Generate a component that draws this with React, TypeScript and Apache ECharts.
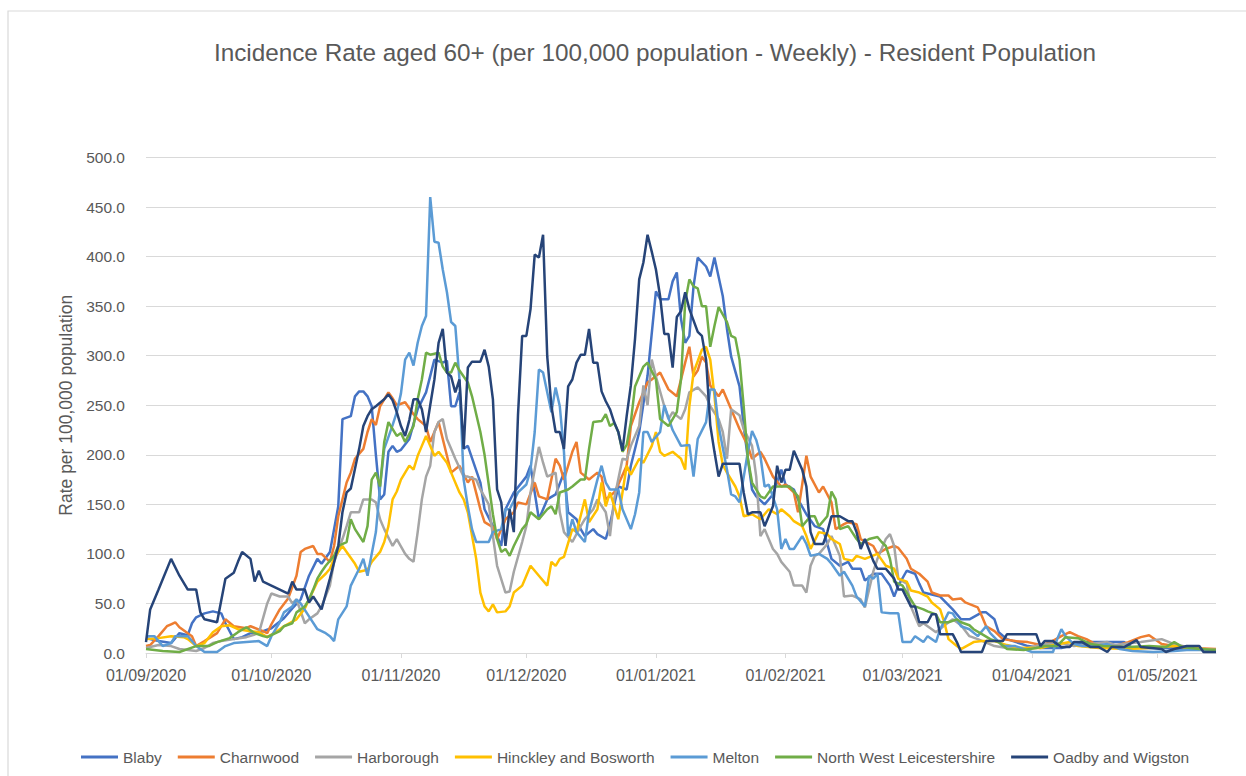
import React, { useEffect, useRef } from "react";
import * as echarts from "echarts";

// ---- Data ----
const START_UTC = Date.UTC(2020, 8, 1); // 01/09/2020
const DAY_COUNT = 257; // through 15/05/2021
const categories: string[] = Array.from({ length: DAY_COUNT }, (_, i) => {
  const d = new Date(START_UTC + i * 86400000);
  const dd = String(d.getUTCDate()).padStart(2, "0");
  const mm = String(d.getUTCMonth() + 1).padStart(2, "0");
  return `${dd}/${mm}/${d.getUTCFullYear()}`;
});

const yTicks = { min: 0, max: 500, interval: 50 };

const seriesNames = [
  "Blaby",
  "Charnwood",
  "Harborough",
  "Hinckley and Bosworth",
  "Melton",
  "North West Leicestershire",
  "Oadby and Wigston",
];
const seriesColors = ["#4472C4", "#ED7D31", "#A5A5A5", "#FFC000", "#5B9BD5", "#70AD47", "#264478"];

// [day index since 01/09/2020, rate]
const blaby: number[][] = [[0,15],[3,12],[6,10],[8,20],[10,18],[11,30],[12,36],[14,40],[16,42],[18,40],[19,30],[21,14],[23,16],[25,20],[28,22],[30,25],[33,35],[35,45],[37,54],[39,78],[41,95],[42,90],[44,102],[46,148],[47,236],[49,239],[50,259],[51,264],[52,264],[53,259],[54,249],[55,200],[56,155],[57,160],[58,203],[59,209],[60,203],[61,205],[63,216],[65,246],[67,263],[69,296],[71,293],[72,295],[73,249],[74,249],[75,263],[76,206],[77,209],[80,172],[81,145],[83,128],[85,108],[86,145],[88,162],[91,178],[92,189],[94,135],[96,155],[98,160],[100,182],[101,142],[103,135],[104,125],[105,118],[107,125],[108,120],[110,115],[111,130],[113,168],[115,165],[116,189],[118,223],[120,280],[122,365],[123,357],[125,357],[126,375],[127,384],[128,337],[129,313],[130,320],[131,370],[132,399],[134,390],[135,380],[136,399],[138,360],[139,327],[140,299],[142,269],[143,229],[144,196],[145,165],[146,158],[148,150],[150,160],[152,185],[153,170],[155,165],[156,155],[158,140],[160,128],[162,125],[164,95],[166,88],[168,92],[169,85],[171,85],[172,73],[174,80],[176,80],[178,68],[179,57],[180,68],[182,83],[184,80],[185,70],[186,61],[190,57],[193,44],[195,34],[197,34],[200,41],[201,41],[203,34],[204,21],[206,14],[211,7],[214,5],[219,5],[222,8],[225,11],[234,11],[236,5],[243,5],[250,4],[256,3]];

const charnwood: number[][] = [[0,7],[1,8],[3,17],[5,27],[6,29],[7,31],[8,26],[11,17],[12,7],[14,12],[17,20],[19,34],[21,27],[24,25],[25,27],[28,22],[29,20],[30,29],[32,44],[34,55],[36,78],[37,102],[38,105],[40,108],[41,100],[42,100],[44,92],[45,108],[46,138],[48,172],[49,182],[50,196],[52,206],[53,223],[54,236],[55,230],[56,249],[58,263],[59,257],[60,250],[62,253],[64,241],[65,236],[67,229],[68,213],[69,223],[70,233],[72,199],[73,182],[75,189],[77,172],[78,178],[80,145],[81,132],[83,127],[84,115],[86,135],[88,142],[89,152],[91,150],[93,172],[94,158],[96,155],[98,196],[99,189],[100,175],[102,203],[103,213],[104,182],[106,175],[108,182],[109,178],[110,155],[112,162],[113,170],[115,189],[116,229],[118,253],[120,273],[121,276],[123,283],[125,266],[127,259],[129,293],[130,309],[131,279],[132,285],[133,299],[134,293],[135,270],[137,259],[138,266],[140,246],[142,226],[144,209],[145,196],[147,203],[148,196],[150,178],[152,168],[153,170],[155,162],[156,142],[157,170],[158,199],[159,178],[161,162],[162,168],[164,152],[165,125],[167,130],[168,132],[170,130],[171,115],[174,108],[175,100],[177,105],[179,108],[180,106],[182,95],[183,85],[185,80],[187,72],[188,61],[190,58],[192,58],[193,54],[195,55],[196,51],[199,46],[200,37],[201,27],[203,22],[205,14],[208,12],[211,11],[214,8],[216,10],[219,17],[221,21],[223,17],[225,14],[228,7],[231,6],[235,11],[238,16],[240,18],[243,9],[246,7],[250,5],[256,4]];

const harborough: number[][] = [[0,5],[3,8],[6,7],[8,4],[10,3],[12,2],[14,5],[16,10],[18,12],[21,14],[24,16],[27,20],[29,50],[30,60],[32,57],[34,57],[35,50],[36,54],[38,30],[39,34],[41,40],[42,47],[44,68],[45,92],[47,115],[48,128],[49,142],[51,142],[52,155],[54,155],[55,152],[56,135],[57,125],[59,108],[60,115],[62,100],[63,95],[64,92],[65,122],[66,155],[67,178],[68,189],[69,223],[70,233],[71,236],[72,216],[73,206],[74,196],[76,178],[77,178],[79,175],[80,165],[82,150],[83,118],[84,88],[86,61],[87,62],[88,82],[90,112],[91,128],[92,162],[94,208],[95,192],[96,178],[98,182],[99,142],[100,122],[102,112],[104,128],[105,135],[107,145],[108,155],[110,142],[111,118],[112,155],[114,196],[115,195],[116,209],[118,229],[119,270],[120,250],[121,296],[122,279],[124,249],[125,236],[126,243],[128,236],[129,246],[130,263],[132,268],[134,259],[135,249],[137,236],[138,223],[139,196],[140,246],[142,240],[143,226],[145,209],[146,178],[147,118],[148,125],[150,105],[151,100],[152,92],[154,82],[155,68],[157,68],[158,61],[159,88],[160,98],[161,100],[163,110],[164,118],[166,98],[167,57],[169,58],[171,54],[172,46],[174,82],[175,95],[177,115],[178,120],[179,108],[180,75],[182,70],[183,47],[185,27],[186,30],[187,27],[189,21],[192,31],[193,34],[195,28],[197,17],[199,14],[203,7],[206,5],[211,5],[215,9],[219,10],[222,7],[226,9],[230,11],[232,8],[238,11],[243,14],[246,9],[250,5],[256,3]];

const hinckley: number[][] = [[0,14],[3,15],[6,17],[9,16],[10,14],[12,7],[14,10],[16,21],[18,27],[20,28],[22,24],[25,22],[27,21],[29,16],[31,21],[33,27],[36,34],[38,45],[39,54],[41,72],[43,80],[44,85],[45,95],[46,102],[47,108],[48,102],[50,90],[51,82],[53,84],[54,92],[55,97],[56,102],[57,112],[58,128],[59,155],[60,163],[61,175],[63,189],[64,185],[65,199],[66,209],[67,219],[68,209],[69,199],[70,203],[72,192],[73,182],[75,162],[76,155],[77,142],[79,95],[80,61],[81,47],[82,42],[83,49],[84,41],[86,42],[87,47],[88,61],[90,68],[91,78],[92,88],[94,78],[96,68],[97,92],[98,88],[99,95],[100,97],[102,125],[103,122],[105,155],[106,132],[108,145],[109,172],[110,148],[111,162],[113,135],[115,189],[116,180],[118,196],[119,192],[121,209],[122,223],[123,203],[124,199],[126,203],[128,196],[129,185],[130,249],[131,283],[133,306],[134,309],[135,296],[136,260],[137,213],[138,190],[139,182],[141,168],[142,158],[143,138],[145,140],[147,135],[148,140],[149,145],[151,140],[152,145],[154,138],[155,133],[157,128],[158,118],[159,105],[161,122],[163,120],[164,115],[166,110],[167,95],[169,93],[170,98],[172,95],[175,100],[177,88],[179,85],[180,75],[182,72],[183,63],[185,61],[187,57],[188,51],[190,44],[191,31],[192,14],[194,7],[195,4],[198,11],[200,12],[203,12],[206,8],[209,5],[214,5],[216,7],[221,11],[223,7],[228,5],[235,4],[240,5],[246,7],[250,5],[256,3]];

const melton: number[][] = [[0,17],[2,17],[4,7],[6,10],[7,17],[10,17],[12,7],[14,1],[17,1],[19,7],[21,10],[24,11],[27,12],[29,7],[30,17],[32,31],[33,41],[35,47],[36,54],[37,50],[39,37],[41,24],[43,20],[44,17],[45,12],[46,34],[48,47],[49,68],[51,85],[52,95],[53,78],[55,122],[56,168],[57,206],[59,230],[60,243],[61,262],[62,296],[63,303],[64,290],[65,313],[66,330],[67,340],[68,460],[69,415],[70,414],[71,387],[72,364],[73,334],[74,330],[75,276],[76,175],[77,148],[78,125],[79,112],[82,112],[83,122],[85,125],[86,145],[87,145],[89,162],[91,170],[92,185],[93,223],[94,286],[95,283],[97,243],[98,268],[99,249],[100,203],[101,118],[102,135],[103,122],[105,112],[106,142],[108,175],[109,189],[110,172],[111,165],[113,165],[114,145],[116,125],[117,140],[118,162],[119,223],[120,223],[121,213],[123,223],[124,250],[126,225],[128,209],[130,210],[131,178],[132,216],[134,233],[135,266],[136,266],[137,229],[139,185],[140,160],[141,158],[142,152],[144,203],[145,224],[146,215],[147,199],[148,168],[149,170],[151,145],[152,105],[153,115],[154,105],[155,105],[157,118],[158,110],[159,98],[161,100],[163,95],[164,90],[166,78],[167,82],[169,68],[170,57],[172,47],[173,78],[174,75],[175,80],[176,41],[178,40],[180,40],[181,11],[183,11],[184,17],[186,11],[187,17],[189,11],[190,24],[192,41],[193,40],[195,27],[197,24],[199,17],[201,27],[202,20],[205,7],[208,7],[212,1],[217,1],[218,14],[219,24],[220,17],[222,9],[224,7],[227,7],[230,9],[233,4],[236,2],[241,1],[246,2],[249,3],[256,3]];

const nwLeics: number[][] = [[0,4],[4,2],[8,1],[12,7],[15,7],[17,11],[20,15],[22,21],[24,26],[26,20],[28,17],[29,16],[32,22],[33,27],[35,30],[36,41],[38,47],[39,54],[40,64],[41,75],[42,82],[43,88],[45,98],[46,108],[48,112],[49,135],[50,125],[52,112],[53,128],[54,175],[55,182],[56,168],[57,213],[58,233],[60,219],[61,222],[62,213],[64,229],[65,256],[66,276],[67,303],[68,301],[70,303],[71,289],[72,283],[73,283],[74,293],[75,285],[77,273],[78,259],[80,223],[81,200],[82,170],[83,140],[84,115],[85,102],[86,105],[87,98],[88,108],[90,125],[91,130],[92,142],[94,135],[96,145],[97,148],[98,140],[99,162],[101,165],[102,168],[104,175],[105,175],[106,206],[107,233],[109,234],[110,241],[111,229],[112,232],[113,223],[114,203],[115,210],[116,233],[117,269],[119,289],[120,293],[122,276],[123,236],[125,229],[127,243],[128,276],[129,354],[130,377],[131,370],[132,368],[133,350],[134,350],[135,309],[136,330],[137,349],[139,334],[140,320],[141,318],[142,296],[143,249],[144,196],[145,172],[147,158],[148,156],[150,168],[154,168],[156,158],[157,128],[159,138],[160,138],[161,128],[163,138],[164,163],[165,155],[166,125],[168,128],[170,115],[171,110],[173,115],[175,117],[176,112],[177,108],[178,95],[179,72],[181,68],[182,61],[184,47],[186,44],[187,42],[189,39],[190,31],[192,31],[194,34],[195,31],[197,28],[198,24],[200,19],[202,14],[204,11],[206,4],[210,3],[213,5],[215,7],[218,7],[220,16],[223,15],[226,9],[229,7],[235,6],[240,7],[244,6],[246,11],[248,6],[252,4],[256,3]];

const oadby: number[][] = [[0,11],[1,44],[3,64],[6,95],[8,78],[10,64],[12,64],[13,41],[14,34],[17,31],[19,75],[21,81],[22,92],[23,102],[25,95],[26,72],[27,83],[28,72],[30,68],[34,60],[35,72],[36,64],[38,64],[39,51],[40,57],[42,44],[44,75],[46,108],[47,142],[48,162],[49,166],[50,186],[51,206],[52,229],[53,239],[54,246],[55,249],[57,256],[58,261],[59,255],[60,243],[61,229],[62,219],[63,235],[64,256],[65,256],[66,246],[67,223],[68,250],[69,276],[70,313],[71,327],[72,283],[73,279],[74,263],[75,276],[76,206],[77,288],[78,294],[80,294],[81,306],[82,289],[83,256],[84,165],[85,152],[86,108],[87,145],[88,122],[89,240],[90,320],[91,320],[92,347],[93,402],[94,399],[95,422],[96,299],[97,249],[98,223],[99,223],[100,206],[101,269],[102,276],[103,293],[104,301],[105,301],[106,327],[107,293],[108,293],[109,264],[110,254],[111,246],[112,233],[113,223],[114,204],[115,239],[116,270],[117,317],[118,377],[119,394],[120,422],[121,405],[122,387],[123,360],[124,322],[125,322],[126,288],[127,339],[128,345],[129,364],[130,347],[132,324],[133,320],[134,296],[135,230],[136,203],[137,178],[138,191],[142,191],[143,162],[144,140],[145,142],[147,142],[148,128],[150,148],[151,189],[152,172],[153,185],[154,185],[155,204],[157,185],[158,168],[159,122],[160,110],[162,110],[163,122],[164,138],[166,138],[168,133],[169,133],[170,122],[171,105],[172,115],[174,93],[175,85],[177,85],[179,75],[180,64],[181,64],[183,47],[184,47],[185,31],[187,31],[188,39],[189,39],[190,19],[193,19],[194,11],[195,1],[200,1],[201,12],[205,12],[206,19],[213,19],[214,7],[215,12],[217,12],[219,6],[221,6],[222,11],[224,11],[226,6],[228,6],[230,1],[231,6],[234,6],[237,13],[238,6],[243,4],[244,1],[246,4],[249,7],[252,7],[253,1],[256,1]];

const seriesData = [blaby, charnwood, harborough, hinckley, melton, nwLeics, oadby];

const TITLE = "Incidence Rate aged 60+ (per 100,000 population - Weekly) - Resident Population";
const Y_NAME = "Rate per 100,000 population";

const FONT = "'Liberation Sans', Arial, sans-serif";
const TEXT = "#595959";
const GRID = "#d9d9d9";

const isMonthStart = (_i: number, v: string) => v.startsWith("01/");

export default function App() {
  const ref = useRef<HTMLDivElement>(null);
  useEffect(() => {
    if (!ref.current) return;
    const chart = echarts.init(ref.current, null, { renderer: "svg" });
    chart.setOption({
      animation: false,
      backgroundColor: "#ffffff",
      textStyle: { fontFamily: FONT },
      graphic: [
        {
          type: "rect",
          z: -1,
          shape: { x: 8, y: 11, width: 1270, height: 820 },
          style: { fill: "none", stroke: "#d9d9d9", lineWidth: 1.2 },
        },
        {
          type: "text",
          style: {
            text: TITLE,
            x: 655,
            y: 52,
            align: "center",
            verticalAlign: "middle",
            fontSize: 24.3,
            fontFamily: FONT,
            fill: TEXT,
          },
        },
      ],
      legend: {
        left: 76,
        top: 744,
        itemWidth: 37,
        itemHeight: 3,
        itemGap: 16,
        icon: "rect",
        textStyle: { color: TEXT, fontSize: 15.5, fontFamily: FONT },
        data: seriesNames,
      },
      grid: { left: 146, right: 30, top: 157.5, bottom: 123, containLabel: false },
      xAxis: {
        type: "category",
        data: categories,
        boundaryGap: false,
        axisLine: { lineStyle: { color: GRID, width: 1 } },
        axisTick: { show: true, interval: isMonthStart, length: 5, lineStyle: { color: GRID } },
        axisLabel: { interval: isMonthStart, color: TEXT, fontSize: 16, margin: 14, fontFamily: FONT },
        splitLine: { show: false },
      },
      yAxis: {
        type: "value",
        min: yTicks.min,
        max: yTicks.max,
        interval: yTicks.interval,
        name: Y_NAME,
        nameLocation: "middle",
        nameRotate: 90,
        nameGap: 67,
        nameTextStyle: { color: TEXT, fontSize: 17.5, fontFamily: FONT },
        axisLine: { show: false },
        axisTick: { show: false },
        axisLabel: {
          color: TEXT,
          fontSize: 15.5,
          margin: 21,
          fontFamily: FONT,
          formatter: (v: number) => v.toFixed(1),
        },
        splitLine: { lineStyle: { color: GRID, width: 1 } },
      },
      series: seriesNames.map((name, i) => ({
        name,
        type: "line",
        data: seriesData[i],
        symbol: "none",
        lineStyle: { color: seriesColors[i], width: 2.5 },
        itemStyle: { color: seriesColors[i] },
        emphasis: { disabled: true },
      })),
    });
    return () => chart.dispose();
  }, []);
  return (
    <div
      ref={ref}
      style={{ position: "absolute", left: 0, top: 0, width: 1246, height: 776 }}
    />
  );
}
